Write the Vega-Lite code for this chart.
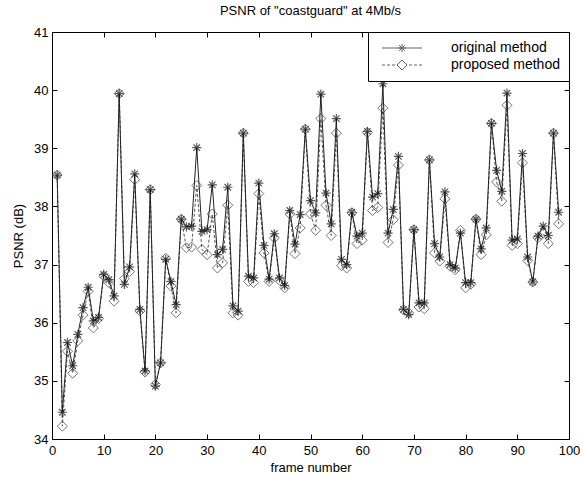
{
  "$schema": "https://vega.github.io/schema/vega-lite/v6.json",
  "width": 517,
  "height": 407,
  "autosize": "none",
  "padding": {"left": 52, "top": 32, "right": 15, "bottom": 49},
  "background": "white",
  "title": {"text": "PSNR of \"coastguard\" at 4Mb/s", "font": "Liberation Sans", "fontSize": 13, "fontWeight": "normal", "color": "black", "offset": 8},
  "config": {
    "view": {"stroke": "black", "strokeWidth": 1},
    "axis": {"labelFont": "Liberation Sans", "titleFont": "Liberation Sans", "labelFontSize": 13, "titleFontSize": 13, "titleFontWeight": "normal", "labelColor": "black", "titleColor": "black", "domainColor": "black", "tickColor": "black", "tickSize": -5, "tickWidth": 1, "grid": false},
    "legend": {"labelFont": "Liberation Sans"}
  },
  "data": {"values": [
    {"frame":1,"orig":38.54,"prop":38.54},{"frame":2,"orig":34.46,"prop":34.22},{"frame":3,"orig":35.66,"prop":35.51},{"frame":4,"orig":35.26,"prop":35.13},{"frame":5,"orig":35.80,"prop":35.69},
    {"frame":6,"orig":36.26,"prop":36.13},{"frame":7,"orig":36.61,"prop":36.54},{"frame":8,"orig":36.03,"prop":35.91},{"frame":9,"orig":36.09,"prop":36.07},{"frame":10,"orig":36.83,"prop":36.80},
    {"frame":11,"orig":36.74,"prop":36.69},{"frame":12,"orig":36.46,"prop":36.37},{"frame":13,"orig":39.94,"prop":39.94},{"frame":14,"orig":36.66,"prop":36.76},{"frame":15,"orig":36.96,"prop":36.88},
    {"frame":16,"orig":38.56,"prop":38.46},{"frame":17,"orig":36.23,"prop":36.20},{"frame":18,"orig":35.17,"prop":35.15},{"frame":19,"orig":38.29,"prop":38.29},{"frame":20,"orig":34.91,"prop":34.94},
    {"frame":21,"orig":35.31,"prop":35.31},{"frame":22,"orig":37.09,"prop":37.11},{"frame":23,"orig":36.71,"prop":36.63},{"frame":24,"orig":36.31,"prop":36.17},{"frame":25,"orig":37.78,"prop":37.78},
    {"frame":26,"orig":37.65,"prop":37.29},{"frame":27,"orig":37.66,"prop":37.30},{"frame":28,"orig":39.01,"prop":38.36},{"frame":29,"orig":37.57,"prop":37.26},{"frame":30,"orig":37.60,"prop":37.17},
    {"frame":31,"orig":38.37,"prop":37.87},{"frame":32,"orig":37.17,"prop":36.94},{"frame":33,"orig":37.26,"prop":37.03},{"frame":34,"orig":38.33,"prop":38.02},{"frame":35,"orig":36.29,"prop":36.17},
    {"frame":36,"orig":36.20,"prop":36.13},{"frame":37,"orig":39.26,"prop":39.26},{"frame":38,"orig":36.80,"prop":36.71},{"frame":39,"orig":36.77,"prop":36.69},{"frame":40,"orig":38.40,"prop":38.22},
    {"frame":41,"orig":37.33,"prop":37.20},{"frame":42,"orig":36.75,"prop":36.71},{"frame":43,"orig":37.53,"prop":37.46},{"frame":44,"orig":36.77,"prop":36.73},{"frame":45,"orig":36.64,"prop":36.60},
    {"frame":46,"orig":37.93,"prop":37.87},{"frame":47,"orig":37.35,"prop":37.19},{"frame":48,"orig":37.86,"prop":37.63},{"frame":49,"orig":39.33,"prop":39.33},{"frame":50,"orig":38.10,"prop":37.87},
    {"frame":51,"orig":37.89,"prop":37.59},{"frame":52,"orig":39.93,"prop":39.51},{"frame":53,"orig":38.23,"prop":38.02},{"frame":54,"orig":37.70,"prop":37.50},{"frame":55,"orig":39.51,"prop":39.26},
    {"frame":56,"orig":37.09,"prop":36.98},{"frame":57,"orig":37.00,"prop":36.94},{"frame":58,"orig":37.90,"prop":37.89},{"frame":59,"orig":37.49,"prop":37.36},{"frame":60,"orig":37.54,"prop":37.42},
    {"frame":61,"orig":39.29,"prop":39.27},{"frame":62,"orig":38.16,"prop":37.93},{"frame":63,"orig":38.22,"prop":37.98},{"frame":64,"orig":40.11,"prop":39.69},{"frame":65,"orig":37.54,"prop":37.38},
    {"frame":66,"orig":37.95,"prop":37.77},{"frame":67,"orig":38.86,"prop":38.71},{"frame":68,"orig":36.23,"prop":36.22},{"frame":69,"orig":36.14,"prop":36.17},{"frame":70,"orig":37.60,"prop":37.60},
    {"frame":71,"orig":36.34,"prop":36.27},{"frame":72,"orig":36.34,"prop":36.24},{"frame":73,"orig":38.80,"prop":38.80},{"frame":74,"orig":37.36,"prop":37.20},{"frame":75,"orig":37.13,"prop":37.06},
    {"frame":76,"orig":38.25,"prop":38.13},{"frame":77,"orig":37.00,"prop":36.97},{"frame":78,"orig":36.94,"prop":36.91},{"frame":79,"orig":37.54,"prop":37.59},{"frame":80,"orig":36.69,"prop":36.60},
    {"frame":81,"orig":36.69,"prop":36.66},{"frame":82,"orig":37.78,"prop":37.78},{"frame":83,"orig":37.27,"prop":37.17},{"frame":84,"orig":37.63,"prop":37.51},{"frame":85,"orig":39.43,"prop":39.43},
    {"frame":86,"orig":38.62,"prop":38.42},{"frame":87,"orig":38.26,"prop":38.09},{"frame":88,"orig":39.95,"prop":39.74},{"frame":89,"orig":37.42,"prop":37.33},{"frame":90,"orig":37.44,"prop":37.36},
    {"frame":91,"orig":38.91,"prop":38.75},{"frame":92,"orig":37.13,"prop":37.07},{"frame":93,"orig":36.70,"prop":36.70},{"frame":94,"orig":37.49,"prop":37.46},{"frame":95,"orig":37.66,"prop":37.54},
    {"frame":96,"orig":37.50,"prop":37.36},{"frame":97,"orig":39.26,"prop":39.26},{"frame":98,"orig":37.90,"prop":37.70}
  ]},
  "layer": [
    {
      "mark": {"type": "line", "color": "#555555", "strokeWidth": 1, "strokeDash": [3, 2]},
      "encoding": {
        "x": {"field": "frame", "type": "quantitative", "scale": {"domain": [0, 100], "nice": false}, "axis": {"orient": "bottom", "title": "frame number", "values": [0,10,20,30,40,50,60,70,80,90,100], "labelPadding": 10, "titlePadding": 4, "labelFlush": false}},
        "y": {"field": "prop", "type": "quantitative", "scale": {"domain": [34, 41], "nice": false, "zero": false}, "axis": {"orient": "left", "title": "PSNR (dB)", "values": [34,35,36,37,38,39,40,41], "labelPadding": 9, "titlePadding": 8}}
      }
    },
    {
      "mark": {"type": "point", "shape": "diamond", "size": 100, "filled": false, "color": "#3a3a3a", "strokeWidth": 1},
      "encoding": {
        "x": {"field": "frame", "type": "quantitative", "axis": {"orient": "top", "labels": false, "title": null, "values": [0,10,20,30,40,50,60,70,80,90,100]}},
        "y": {"field": "prop", "type": "quantitative", "axis": {"orient": "right", "labels": false, "title": null, "values": [34,35,36,37,38,39,40,41]}}
      }
    },
    {
      "mark": {"type": "line", "color": "#222222", "strokeWidth": 1},
      "encoding": {
        "x": {"field": "frame", "type": "quantitative", "axis": null},
        "y": {"field": "orig", "type": "quantitative", "axis": null}
      }
    },
    {
      "mark": {"type": "point", "shape": "M-1,0L1,0M0,-1L0,1M-0.7,-0.7L0.7,0.7M-0.7,0.7L0.7,-0.7", "size": 85, "filled": false, "color": "#111111", "strokeWidth": 1.2},
      "encoding": {
        "x": {"field": "frame", "type": "quantitative", "axis": null},
        "y": {"field": "orig", "type": "quantitative", "axis": null}
      }
    },
    {
      "data": {"values": [{"method": "original method"}, {"method": "proposed method"}]},
      "transform": [{"filter": "false"}],
      "mark": {"type": "point", "filled": false, "color": "#222222", "strokeWidth": 1},
      "encoding": {
        "shape": {
          "field": "method", "type": "nominal",
          "scale": {"domain": ["original method", "proposed method"], "range": ["M-4,0L4,0M-0.8,0L0.8,0M0,-0.8L0,0.8M-0.57,-0.57L0.57,0.57M-0.57,0.57L0.57,-0.57", "M-4,0L-3.4,0M-3,0L-2.4,0M-2,0L-1.4,0M1.4,0L2,0M2.4,0L3,0M3.4,0L4,0M0,-1L1,0L0,1L-1,0Z"]},
          "legend": {"title": null, "orient": "top-right", "offset": 0, "strokeColor": "black", "fillColor": "white", "padding": 9, "rowPadding": 3, "symbolSize": 100, "symbolOffset": 18, "labelOffset": 42, "labelFontSize": 14, "labelColor": "black", "symbolStrokeColor": "#222222", "symbolStrokeWidth": 1}
        }
      }
    }
  ],
  "resolve": {"axis": {"x": "independent", "y": "independent"}}
}
